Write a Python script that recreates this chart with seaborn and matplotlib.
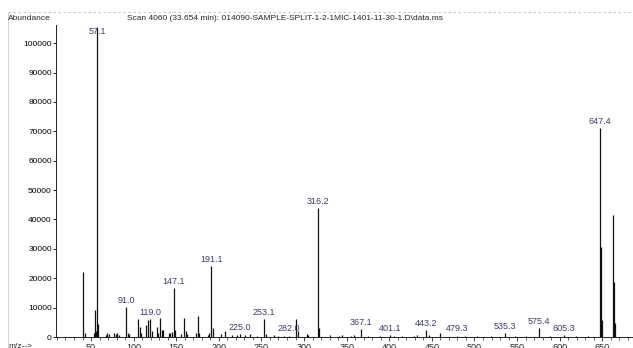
import numpy as np
import pandas as pd
import matplotlib
matplotlib.use("Agg")
import matplotlib.pyplot as plt
from matplotlib.lines import Line2D
import seaborn as sns

# stick spectrum, m/z and abundance
mz = [41, 43, 53, 55, 56, 57.1, 58, 67, 69, 71, 77, 79, 81, 83, 91.0, 93, 95,
      105, 107, 109, 115, 117, 119.0, 121, 128, 129, 131, 133, 135, 141, 143,
      145, 147.1, 149, 155, 159, 161, 163, 173, 175, 177, 187, 189, 191.1, 193,
      203, 207, 215, 221, 225.0, 231, 237, 245, 253.1, 255, 265, 269, 277,
      282.0, 291, 293, 303, 305, 316.2, 317, 331, 341, 345, 355, 359, 367.1,
      375, 389, 401.1, 405, 415, 429, 433, 443.2, 447, 459, 479.3, 489, 503,
      519, 535.3, 547, 561, 575.4, 589, 605.3, 619, 633, 647.4, 648.4, 649.4,
      662.4, 663.4, 664.4]
abundance = [22200, 1500, 1200, 9200, 2000, 105500, 4300, 800, 1200, 900, 1400,
             1000, 1500, 800, 10200, 1200, 900, 6000, 3500, 1200, 4000, 5800,
             6000, 2000, 3500, 1500, 6500, 2500, 2500, 1500, 1200, 1800, 16700,
             2500, 1000, 6600, 2000, 900, 1500, 7100, 1500, 800, 1200, 24200,
             3000, 900, 2000, 600, 800, 1000, 600, 1000, 500, 6100, 900, 600,
             500, 400, 500, 6100, 2000, 1000, 800, 44000, 3000, 600, 500, 700,
             500, 600, 2600, 500, 500, 800, 500, 500, 500, 600, 2500, 800, 1500,
             500, 400, 400, 400, 1500, 400, 400, 3000, 400, 800, 400, 500, 71000,
             30600, 5800, 41500, 18800, 4800]
labelled = [57.1, 91.0, 119.0, 147.1, 191.1, 225.0, 253.1, 282.0, 316.2, 367.1,
            401.1, 443.2, 479.3, 535.3, 575.4, 605.3, 647.4]
yticks = list(range(0, 100001, 10000))
xticks = list(range(50, 651, 50))

title = "Scan 4060 (33.654 min): 014090-SAMPLE-SPLIT-1-2-1MIC-1401-11-30-1.D\\data.ms"

df = pd.DataFrame({"mz": mz, "abundance": abundance})

sns.set_style("ticks")
plt.rcParams["font.family"] = ["Liberation Sans", "DejaVu Sans"]

fig = plt.figure(figsize=(6.33, 3.48), dpi=100)
ax = fig.add_axes([56 / 633, 11 / 348, 1 - 56 / 633, 312 / 348])

ax.vlines(df["mz"], 0, df["abundance"], color="#111111", linewidth=0.9)
sns.despine(ax=ax, top=True, right=True)

lab_color = "#3a3d6a"
for m in labelled:
    h = df.loc[df["mz"] == m, "abundance"].iloc[0]
    ax.text(m, min(h + 700, 102500), f"{m:.1f}", ha="center", va="bottom",
            fontsize=6.5, color=lab_color)

ax.set_xlim(8.9, 686)
ax.set_ylim(0, 106200)
ax.set_yticks(yticks)
ax.set_yticklabels([str(v) for v in yticks])
ax.set_xticks(xticks)
ax.set_xticks(list(range(10, 681, 10)), minor=True)
ax.tick_params(axis="y", length=2, width=0.6, labelsize=6, pad=1, colors="black")
ax.tick_params(axis="x", which="major", length=3, width=0.6, labelsize=6.5, pad=1)
ax.tick_params(axis="x", which="minor", length=2, width=0.5)
for s in ["left", "bottom"]:
    ax.spines[s].set_linewidth(0.7)
    ax.spines[s].set_color("#222222")

fig.text(8 / 633, 1 - 19 / 348, "Abundance", fontsize=6, va="center", ha="left")
fig.text(285 / 633, 1 - 19 / 348, title, fontsize=6, va="center", ha="center")
fig.text(8 / 633, 1 - 347 / 348, "m/z-->", fontsize=6, va="center", ha="left")

# faint frame of the original screenshot
fig.add_artist(Line2D([8 / 633, 1], [1 - 12 / 348] * 2, transform=fig.transFigure,
                      color="#bbbbbb", linewidth=0.6, linestyle=(0, (3, 3))))
fig.add_artist(Line2D([8 / 633] * 2, [0, 1 - 12 / 348], transform=fig.transFigure,
                      color="#cccccc", linewidth=0.6))

fig.savefig("out.png", dpi=100)
